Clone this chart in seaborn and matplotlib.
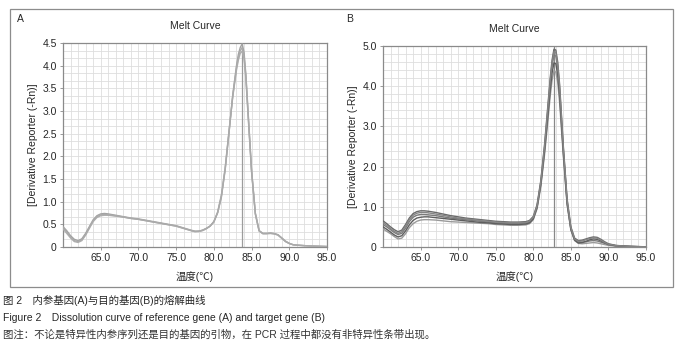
import numpy as np
import pandas as pd
import matplotlib
matplotlib.use("Agg")
import matplotlib.pyplot as plt
from matplotlib.patches import Rectangle
from matplotlib.ticker import MultipleLocator
import seaborn as sns

# ---------------- data ----------------
temps_a = [60.0, 60.5, 61.0, 61.5, 62.0, 62.5, 63.0, 63.5, 64.0, 64.5,
           65.0, 65.5, 66.0, 67.0, 68.0, 69.0, 70.0, 71.0, 72.0, 73.0,
           74.0, 75.0, 76.0, 77.0, 77.5, 78.0, 78.5, 79.0, 79.5, 80.0,
           80.5, 81.0, 81.5, 82.0, 82.5, 83.0, 83.25, 83.5, 83.75, 84.0,
           84.25, 84.5, 85.0, 85.5, 86.0, 86.5, 87.0, 87.5, 88.0, 88.5,
           89.0, 89.5, 90.0, 90.5, 91.0, 92.0, 93.0, 94.0, 95.0]

ref_run1 = [0.45, 0.36, 0.25, 0.17, 0.14, 0.18, 0.30, 0.45, 0.60, 0.69,
            0.73, 0.74, 0.73, 0.70, 0.67, 0.64, 0.62, 0.59, 0.56, 0.53,
            0.50, 0.47, 0.42, 0.37, 0.35, 0.35, 0.37, 0.41, 0.46, 0.55,
            0.75, 1.10, 1.70, 2.50, 3.35, 4.00, 4.25, 4.40, 4.48, 4.30,
            3.80, 3.10, 1.70, 0.75, 0.36, 0.30, 0.30, 0.31, 0.30, 0.27,
            0.20, 0.13, 0.08, 0.05, 0.04, 0.03, 0.02, 0.015, 0.01]
ref_run2 = [0.40, 0.30, 0.20, 0.12, 0.10, 0.14, 0.26, 0.41, 0.56, 0.65,
            0.69, 0.70, 0.70, 0.68, 0.66, 0.63, 0.61, 0.58, 0.55, 0.52,
            0.49, 0.46, 0.41, 0.36, 0.34, 0.34, 0.36, 0.40, 0.46, 0.56,
            0.77, 1.15, 1.75, 2.55, 3.30, 3.90, 4.12, 4.27, 4.32, 4.15,
            3.70, 3.00, 1.65, 0.72, 0.35, 0.29, 0.29, 0.30, 0.29, 0.26,
            0.19, 0.12, 0.075, 0.05, 0.04, 0.03, 0.02, 0.015, 0.01]
ref_run3 = [0.43, 0.33, 0.22, 0.14, 0.12, 0.16, 0.28, 0.43, 0.58, 0.67,
            0.71, 0.72, 0.71, 0.69, 0.66, 0.63, 0.61, 0.58, 0.55, 0.52,
            0.49, 0.46, 0.41, 0.36, 0.34, 0.35, 0.37, 0.41, 0.46, 0.56,
            0.76, 1.12, 1.72, 2.52, 3.32, 3.95, 4.18, 4.33, 4.40, 4.22,
            3.75, 3.05, 1.68, 0.74, 0.36, 0.30, 0.30, 0.30, 0.29, 0.27,
            0.20, 0.12, 0.08, 0.05, 0.04, 0.03, 0.02, 0.015, 0.01]

temps_b = [60.0, 60.5, 61.0, 61.5, 62.0, 62.5, 63.0, 63.5, 64.0, 64.5,
           65.0, 65.5, 66.0, 67.0, 68.0, 69.0, 70.0, 71.0, 72.0, 73.0,
           74.0, 75.0, 76.0, 77.0, 78.0, 79.0, 79.5, 80.0, 80.5, 81.0,
           81.5, 82.0, 82.25, 82.5, 82.75, 83.0, 83.25, 83.5, 84.0, 84.5,
           85.0, 85.5, 86.0, 86.5, 87.0, 87.5, 88.0, 88.5, 89.0, 89.5,
           90.0, 91.0, 92.0, 93.0, 94.0, 95.0]

tgt_run1 = [0.65, 0.58, 0.50, 0.43, 0.38, 0.42, 0.56, 0.72, 0.83, 0.88,
            0.90, 0.90, 0.89, 0.86, 0.82, 0.78, 0.75, 0.72, 0.70, 0.68,
            0.66, 0.64, 0.63, 0.62, 0.62, 0.63, 0.66, 0.76, 1.05, 1.65,
            2.55, 3.65, 4.20, 4.65, 4.92, 4.90, 4.60, 4.05, 2.50, 1.20,
            0.50, 0.22, 0.16, 0.17, 0.20, 0.23, 0.25, 0.24, 0.19, 0.13,
            0.08, 0.04, 0.025, 0.015, 0.01, 0.005]
tgt_run2 = [0.56, 0.50, 0.43, 0.36, 0.31, 0.34, 0.47, 0.63, 0.74, 0.79,
            0.81, 0.81, 0.80, 0.78, 0.75, 0.72, 0.70, 0.68, 0.66, 0.64,
            0.62, 0.60, 0.59, 0.58, 0.58, 0.59, 0.62, 0.72, 1.00, 1.58,
            2.45, 3.50, 4.05, 4.50, 4.78, 4.75, 4.45, 3.90, 2.40, 1.12,
            0.45, 0.18, 0.12, 0.12, 0.13, 0.15, 0.16, 0.15, 0.12, 0.09,
            0.06, 0.03, 0.02, 0.012, 0.008, 0.005]
tgt_run3 = [0.45, 0.39, 0.33, 0.26, 0.20, 0.22, 0.33, 0.48, 0.58, 0.64,
            0.67, 0.68, 0.68, 0.67, 0.65, 0.63, 0.62, 0.61, 0.60, 0.59,
            0.58, 0.56, 0.55, 0.54, 0.54, 0.55, 0.58, 0.68, 0.95, 1.50,
            2.30, 3.25, 3.75, 4.15, 4.38, 4.35, 4.10, 3.60, 2.25, 1.05,
            0.42, 0.16, 0.09, 0.08, 0.09, 0.10, 0.11, 0.10, 0.08, 0.06,
            0.04, 0.02, 0.015, 0.01, 0.006, 0.004]
tgt_run4 = [0.50, 0.44, 0.37, 0.30, 0.25, 0.28, 0.40, 0.55, 0.66, 0.72,
            0.74, 0.75, 0.75, 0.73, 0.71, 0.69, 0.67, 0.65, 0.63, 0.61,
            0.60, 0.58, 0.57, 0.56, 0.56, 0.57, 0.60, 0.70, 0.98, 1.55,
            2.38, 3.38, 3.90, 4.33, 4.58, 4.56, 4.28, 3.75, 2.33, 1.08,
            0.44, 0.17, 0.10, 0.11, 0.14, 0.18, 0.20, 0.19, 0.15, 0.10,
            0.06, 0.03, 0.02, 0.012, 0.008, 0.005]
tgt_run5 = [0.60, 0.54, 0.46, 0.39, 0.34, 0.38, 0.52, 0.68, 0.79, 0.84,
            0.86, 0.86, 0.85, 0.82, 0.79, 0.75, 0.72, 0.70, 0.68, 0.66,
            0.64, 0.62, 0.61, 0.60, 0.60, 0.61, 0.64, 0.74, 1.02, 1.62,
            2.50, 3.58, 4.12, 4.58, 4.86, 4.84, 4.53, 3.98, 2.46, 1.16,
            0.48, 0.20, 0.14, 0.15, 0.18, 0.21, 0.23, 0.22, 0.17, 0.11,
            0.07, 0.035, 0.022, 0.013, 0.009, 0.005]

tm_a = 83.75
tm_b = 82.8

x_ticks = [65.0, 70.0, 75.0, 80.0, 85.0, 90.0, 95.0]
x_ticklabels = ["65.0", "70.0", "75.0", "80.0", "85.0", "90.0", "95.0"]
y_ticks_a = [0, 0.5, 1.0, 1.5, 2.0, 2.5, 3.0, 3.5, 4.0, 4.5]
y_ticklabels_a = ["0", "0.5", "1.0", "1.5", "2.0", "2.5", "3.0", "3.5", "4.0", "4.5"]
y_ticks_b = [0, 1.0, 2.0, 3.0, 4.0, 5.0]
y_ticklabels_b = ["0", "1.0", "2.0", "3.0", "4.0", "5.0"]

# ---------------- build tables ----------------
def long_table(temps, runs):
    frames = []
    for name, vals in runs.items():
        frames.append(pd.DataFrame({"temp": temps, "value": vals, "run": name}))
    return pd.concat(frames, ignore_index=True)

df_a = long_table(temps_a, {"r1": ref_run1, "r2": ref_run2, "r3": ref_run3})
df_b = long_table(temps_b, {"t1": tgt_run1, "t2": tgt_run2, "t3": tgt_run3,
                            "t4": tgt_run4, "t5": tgt_run5})

# ---------------- style ----------------
sns.set_style("white")
plt.rcParams["font.family"] = ["Liberation Sans", "Noto Sans CJK SC", "DejaVu Sans"]

fig = plt.figure(figsize=(6.95, 3.53), dpi=100)
fig.patch.set_facecolor("white")

# outer frame
fig.patches.append(Rectangle((0.0144, 0.187), 0.954, 0.788, transform=fig.transFigure,
                             fill=False, edgecolor="#8c8c8c", linewidth=0.9))

ax_a = fig.add_axes([0.0906, 0.3003, 0.3799, 0.5779])
ax_b = fig.add_axes([0.5511, 0.3003, 0.3784, 0.5694])

grey = "#8a8a8a"

def style_axis(ax, ymax, ystep, yticks, yticklabels):
    ax.set_xlim(60, 95)
    ax.set_ylim(0, ymax)
    ax.xaxis.set_minor_locator(MultipleLocator(1.0))
    ax.yaxis.set_minor_locator(MultipleLocator(ystep))
    ax.grid(which="minor", color="#dedede", linewidth=0.6)
    ax.grid(which="major", color="#dedede", linewidth=0.6)
    ax.set_axisbelow(True)
    ax.set_xticks(x_ticks)
    ax.set_xticklabels(x_ticklabels)
    ax.set_yticks(yticks)
    ax.set_yticklabels(yticklabels)
    ax.tick_params(axis="both", which="major", labelsize=7.5, length=2.5, width=0.6,
                   color=grey, pad=2, direction="out", bottom=True, left=True)
    ax.tick_params(axis="both", which="minor", length=0)
    for s in ax.spines.values():
        s.set_color(grey)
        s.set_linewidth(0.9)
    ax.set_ylabel("[Derivative Reporter (-Rn)]", fontsize=7.5, labelpad=3)
    ax.set_xlabel("温度(℃)", fontsize=7.5, labelpad=6)
    ax.set_title("Melt Curve", fontsize=7.5, pad=10)

sns.lineplot(data=df_a, x="temp", y="value", hue="run", units="run", estimator=None,
             palette=["#a2a2a2", "#b0b0b0", "#aaaaaa"], linewidth=1.0,
             legend=False, ax=ax_a, zorder=3)
ax_a.axvline(tm_a, color="#9c9c9c", linewidth=0.9, zorder=2)
style_axis(ax_a, 4.5, 0.5 / 3, y_ticks_a, y_ticklabels_a)

sns.lineplot(data=df_b, x="temp", y="value", hue="run", units="run", estimator=None,
             palette=["#6a6a6a", "#7a7a7a", "#9a9a9a", "#5e5e5e", "#858585"], linewidth=1.0,
             legend=False, ax=ax_b, zorder=3)
ax_b.axvline(tm_b, color="#888888", linewidth=0.9, zorder=2)
style_axis(ax_b, 5.0, 0.2, y_ticks_b, y_ticklabels_b)

# panel letters
fig.text(0.0245, 0.946, "A", fontsize=7.5, va="center", ha="left")
fig.text(0.4985, 0.946, "B", fontsize=7.5, va="center", ha="left")

# captions
fig.text(0.004, 0.150, "图 2　内参基因(A)与目的基因(B)的熔解曲线", fontsize=7.5,
         va="center", ha="left")
fig.text(0.004, 0.100, "Figure 2　Dissolution curve of reference gene (A) and target gene (B)",
         fontsize=7.5, va="center", ha="left")
fig.text(0.004, 0.051, "图注：不论是特异性内参序列还是目的基因的引物，在 PCR 过程中都没有非特异性条带出现。",
         fontsize=7.5, va="center", ha="left", color="#333333")

fig.savefig("out.png", dpi=100, facecolor="white")
